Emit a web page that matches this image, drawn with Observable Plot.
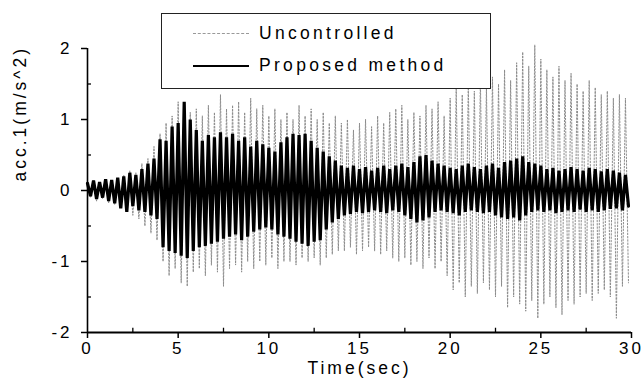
<!DOCTYPE html>
<html>
<head>
<meta charset="utf-8">
<script src="https://cdn.jsdelivr.net/npm/d3@7"></script>
<script src="https://cdn.jsdelivr.net/npm/@observablehq/plot@0.6"></script>
<style>
  html, body { margin: 0; padding: 0; background: #fff; }
  #wrap { position: relative; width: 644px; height: 385px; font-family: "Liberation Sans", Arial, sans-serif; }
  #legend { position: absolute; left: 161px; top: 13px; width: 328px; height: 74px; border: 1.3px solid #222; background: #fff; }
  .row { position: absolute; left: 0; display: flex; align-items: center; font-size: 17.5px; letter-spacing: 3.3px; color: #000; }
  .sw { width: 56px; height: 0; margin-left: 31px; margin-right: 10px; }
</style>
</head>
<body>
<div id="wrap">
  <div id="chart"></div>
  <div id="legend">
    <div class="row" style="top:9px"><span class="sw" style="border-top:1.2px dashed #999"></span><span>Uncontrolled</span></div>
    <div class="row" style="top:41px"><span class="sw" style="border-top:2px solid #000"></span><span>Proposed method</span></div>
  </div>
</div>
<script>
// Series names
const seriesNames = ["Uncontrolled", "Proposed method"];
// One oscillation cycle every 1/3 s: upper peak, then lower peak half a cycle later
const cyclePeriod = 1 / 3;
// Uncontrolled: upper and lower peak per cycle (m/s^2)
const uncUp = [
  0.12, 0.14, 0.10, 0.15, 0.13, 0.17,
  0.22, 0.28, 0.25, 0.38, 0.45, 0.62,
  0.80, 0.95, 1.05, 1.25, 1.20, 1.10,
  1.15, 1.05, 1.20, 1.10, 1.35, 1.15,
  1.20, 1.25, 1.10, 1.30, 1.15, 1.20,
  1.05, 1.15, 1.00, 1.10, 1.00, 1.20,
  1.05, 1.15, 1.00, 1.10, 0.95, 1.05,
  0.95, 1.00, 0.85, 0.95, 1.00, 0.90,
  1.05, 0.95, 1.10, 1.15, 1.20, 1.00,
  1.10, 1.05, 1.20, 1.15, 1.25, 1.05,
  1.30, 1.45, 1.35, 1.50, 1.40, 1.55,
  1.45, 1.60, 1.50, 1.70, 1.55, 1.80,
  1.95, 1.75, 2.05, 1.85, 1.70, 1.60,
  1.75, 1.55, 1.65, 1.50, 1.40, 1.55,
  1.45, 1.35, 1.40, 1.30, 1.35, 1.30
];
const uncDn = [
  -0.10, -0.15, -0.12, -0.18, -0.20, -0.25,
  -0.30, -0.35, -0.40, -0.50, -0.60, -0.70,
  -1.00, -1.20, -1.10, -1.30, -1.35, -1.15,
  -1.10, -1.20, -1.05, -1.15, -1.35, -1.10,
  -1.05, -1.15, -1.00, -1.10, -1.00, -1.05,
  -0.95, -1.10, -1.00, -1.00, -1.05, -0.95,
  -1.00, -0.95, -1.05, -0.95, -0.90, -0.85,
  -0.85, -0.80, -0.90, -0.85, -0.80, -0.85,
  -0.90, -0.85, -0.95, -1.00, -0.95, -1.05,
  -1.00, -1.10, -0.95, -1.10, -1.00, -1.20,
  -1.40, -1.30, -1.50, -1.35, -1.45, -1.30,
  -1.40, -1.50, -1.35, -1.65, -1.50, -1.60,
  -1.70, -1.55, -1.80, -1.60, -1.50, -1.65,
  -1.75, -1.55, -1.60, -1.50, -1.45, -1.55,
  -1.45, -1.40, -1.50, -1.80, -1.35, -1.30
];
// Proposed method: upper and lower peak per cycle (m/s^2)
const propUp = [
  0.10, 0.14, 0.12, 0.16, 0.15, 0.18,
  0.20, 0.25, 0.22, 0.30, 0.38, 0.45,
  0.72, 0.70, 0.90, 0.95, 1.25, 1.00,
  0.85, 0.70, 0.78, 0.75, 0.82, 0.75,
  0.80, 0.70, 0.75, 0.62, 0.70, 0.65,
  0.60, 0.55, 0.68, 0.75, 0.80, 0.78,
  0.80, 0.70, 0.60, 0.55, 0.48, 0.42,
  0.35, 0.32, 0.35, 0.30, 0.33, 0.28,
  0.32, 0.35, 0.30, 0.35, 0.38, 0.33,
  0.40, 0.48, 0.50, 0.42, 0.38, 0.35,
  0.32, 0.30, 0.35, 0.38, 0.33, 0.30,
  0.35, 0.38, 0.32, 0.40, 0.42, 0.45,
  0.48, 0.40, 0.38, 0.35, 0.30, 0.32,
  0.28, 0.30, 0.33, 0.30, 0.28, 0.32,
  0.30, 0.27, 0.30, 0.28, 0.25, 0.22
];
const propDn = [
  -0.08, -0.12, -0.10, -0.15, -0.18, -0.25,
  -0.30, -0.22, -0.28, -0.30, -0.35, -0.40,
  -0.80, -0.85, -0.88, -0.92, -0.95, -0.85,
  -0.80, -0.78, -0.75, -0.72, -0.68, -0.65,
  -0.62, -0.70, -0.65, -0.58, -0.55, -0.52,
  -0.55, -0.62, -0.65, -0.68, -0.72, -0.75,
  -0.78, -0.72, -0.70, -0.55, -0.45, -0.40,
  -0.35, -0.33, -0.30, -0.32, -0.30, -0.28,
  -0.30, -0.32, -0.28, -0.30, -0.35, -0.40,
  -0.45, -0.42, -0.38, -0.30, -0.28, -0.30,
  -0.32, -0.35, -0.30, -0.28, -0.30, -0.32,
  -0.30, -0.35, -0.38, -0.40, -0.38, -0.42,
  -0.35, -0.30, -0.28, -0.30, -0.28, -0.32,
  -0.30, -0.28, -0.30, -0.27, -0.30, -0.28,
  -0.30, -0.28, -0.26, -0.25, -0.28, -0.22
];
// Axis ticks
const xTicks = [0, 5, 10, 15, 20, 25, 30];
const xMinor = [2.5, 7.5, 12.5, 17.5, 22.5, 27.5];
const yTicks = [-2, -1, 0, 1, 2];
const yMinor = [-1.5, -0.5, 0.5, 1.5];
const xTitle = "Time(sec)";
const yTitle = "acc.1(m/s^2)";

function zigzag(up, dn, name) {
  const out = [];
  up.forEach((u, i) => {
    out.push({t: i * cyclePeriod, v: u, s: name});
    out.push({t: (i + 0.5) * cyclePeriod, v: dn[i], s: name});
  });
  return out;
}
const unc = zigzag(uncUp, uncDn, seriesNames[0]);
const prop = zigzag(propUp, propDn, seriesNames[1]);

const chart = Plot.plot({
  width: 644,
  height: 385,
  marginLeft: 87,
  marginRight: 13,
  marginTop: 48,
  marginBottom: 53,
  x: {type: "linear", domain: [0, 30]},
  y: {type: "linear", domain: [-2, 2]},
  style: {fontFamily: "'Liberation Sans', Arial, sans-serif", fontSize: "17px", letterSpacing: "3px", color: "#000", background: "#fff", overflow: "visible"},
  marks: [
    Plot.line(unc, {x: "t", y: "v", stroke: "#8c8c8c", strokeWidth: 1, strokeDasharray: "1.5,1.8"}),
    Plot.line(prop, {x: "t", y: "v", stroke: "#000", strokeWidth: 3.2, strokeLinejoin: "miter", strokeMiterlimit: 2}),
    Plot.ruleX([0], {y1: -2, y2: 2, stroke: "#000", strokeWidth: 1.6}),
    Plot.ruleY([-2], {x1: 0, x2: 30, stroke: "#000", strokeWidth: 2}),
    Plot.axisX(xTicks, {anchor: "bottom", tickSize: 6, tickPadding: 3, strokeWidth: 1.5, label: null, tickFormat: d => String(d)}),
    Plot.axisY(yTicks, {anchor: "left", tickSize: 6, tickPadding: 9, strokeWidth: 1.5, label: null, tickFormat: d => String(d)}),
    Plot.ruleY(yMinor, {x1: 0, x2: 0.22, stroke: "#000", strokeWidth: 1.3}),
    Plot.ruleX(xMinor, {y1: -2, y2: -1.94, stroke: "#000", strokeWidth: 1.3}),
    Plot.text([xTitle], {frameAnchor: "bottom", dy: 36, lineAnchor: "middle", fontSize: 17.5}),
    Plot.text([yTitle], {frameAnchor: "left", dx: -67, dy: -9, rotate: -90, fontSize: 17.5})
  ]
});
document.getElementById("chart").appendChild(chart);
</script>
</body>
</html>
